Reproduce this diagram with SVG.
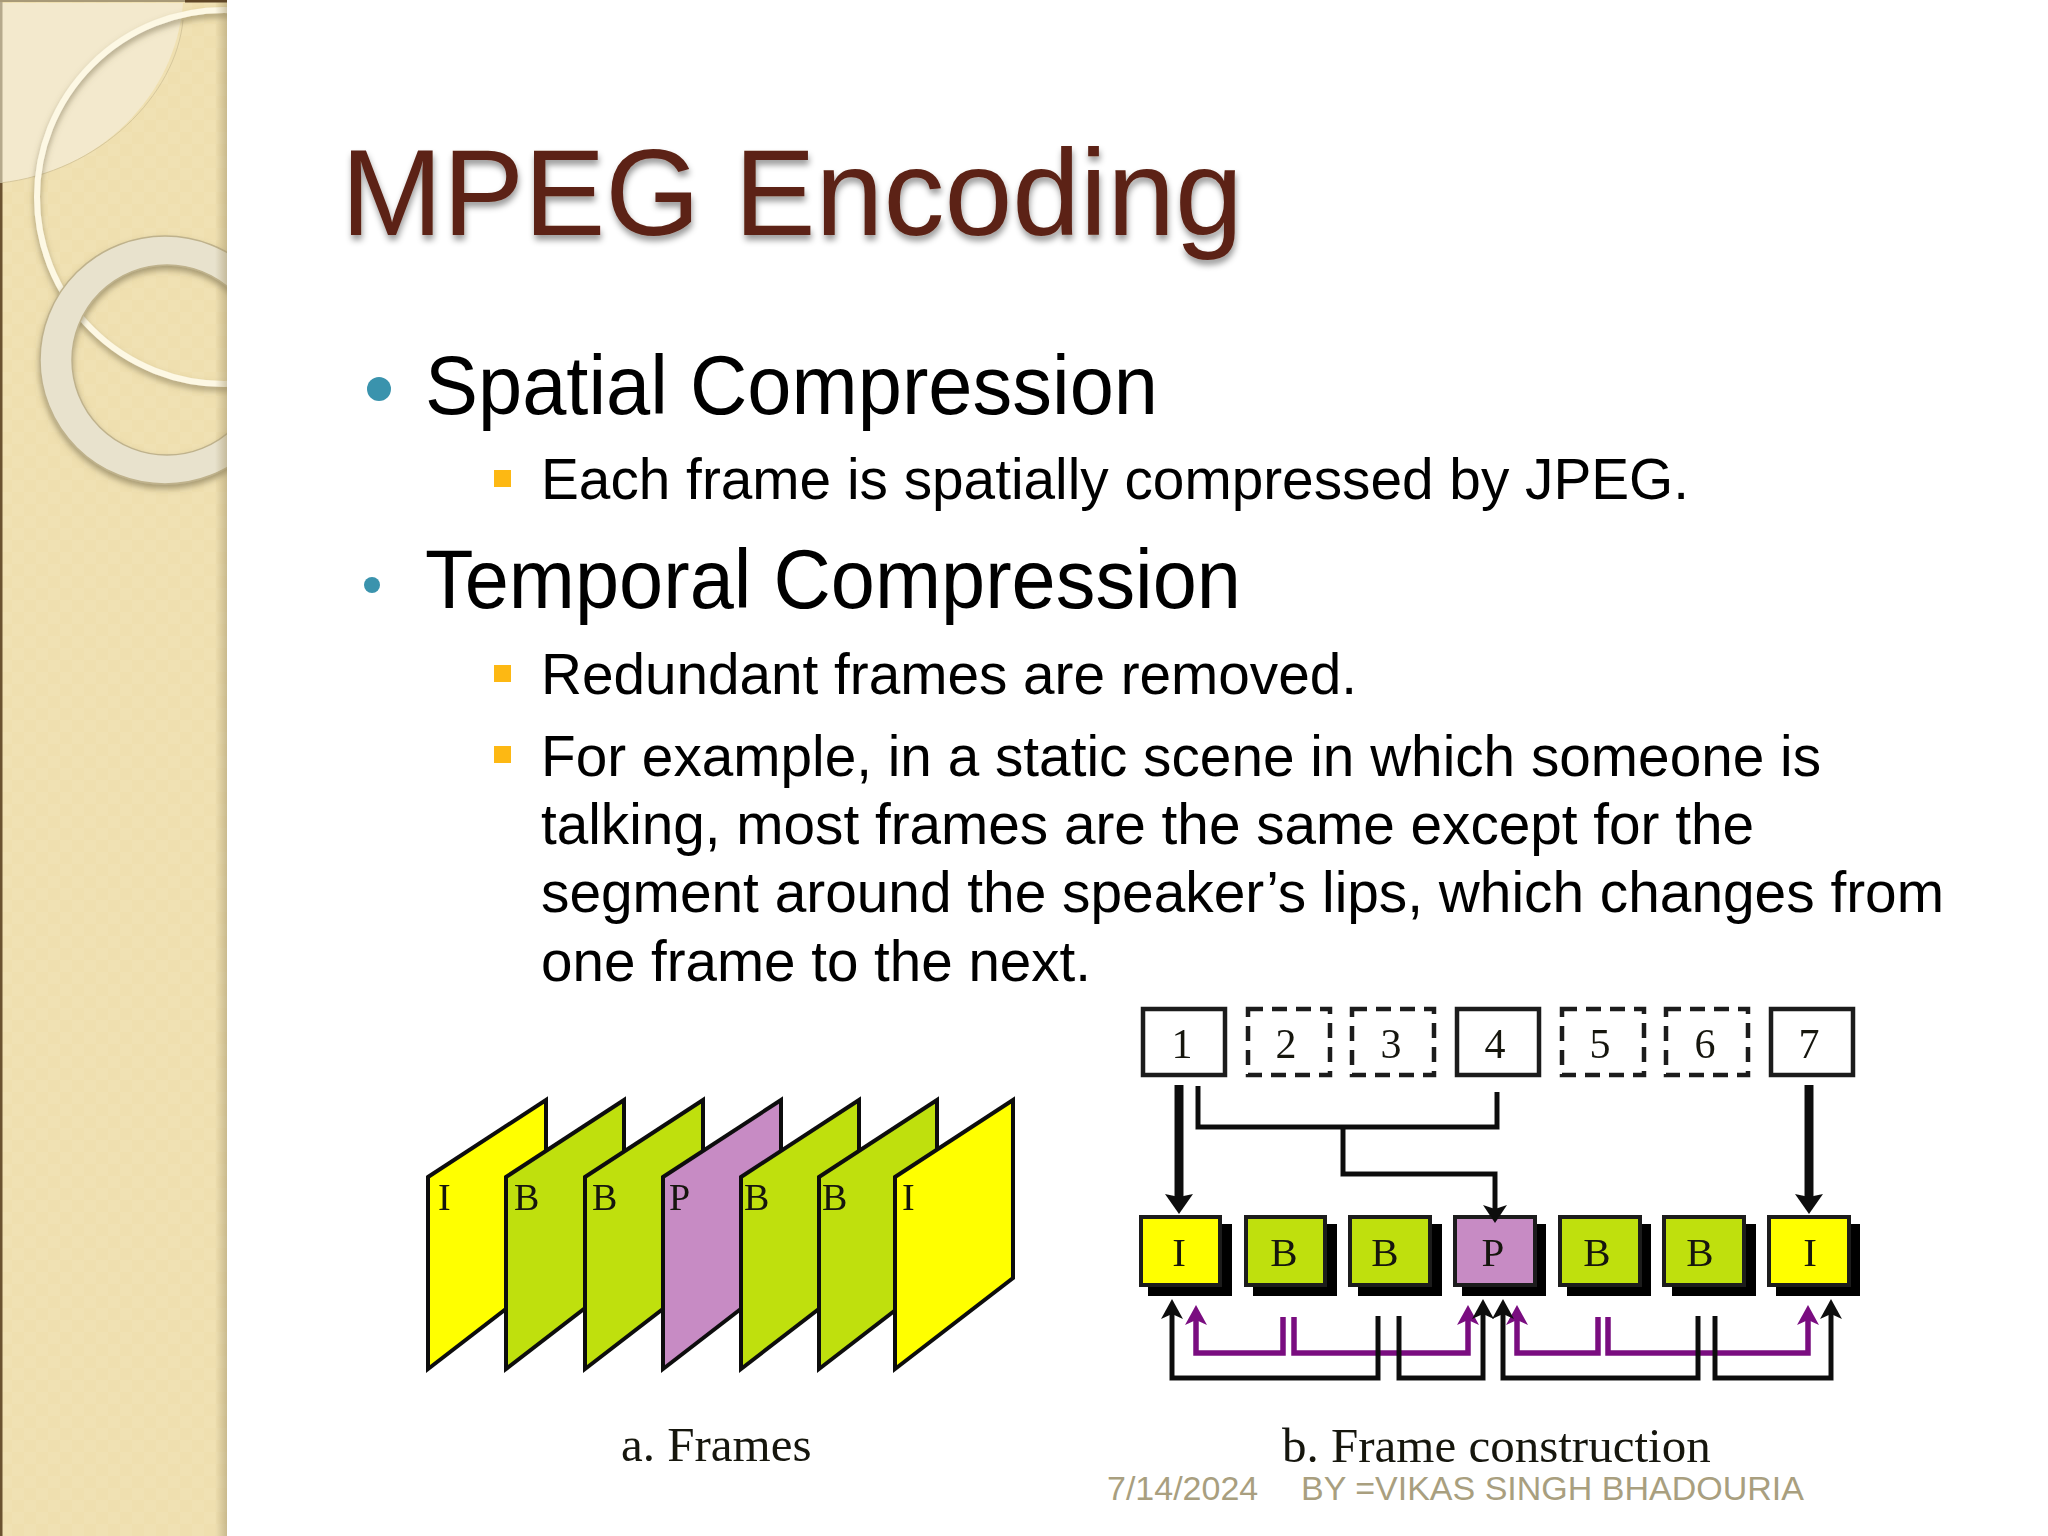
<svg xmlns="http://www.w3.org/2000/svg" width="2048" height="1536" viewBox="0 0 2048 1536">
<style>
.sans{font-family:"Liberation Sans",Arial,sans-serif}
.serif{font-family:"Liberation Serif","Times New Roman",serif;fill:#15150f}
.l1{font-size:84px;fill:#000}
.l2{font-size:58px;fill:#000}
.foot{font-size:34px;fill:#a99f7f}
.num{font-size:42px;text-anchor:middle}
.let{font-size:41px;text-anchor:middle}
.flet{font-size:38px}
.cap{font-size:49px}
.sq{fill:#fdb813}
.dot{fill:#3a93ad}
.fr{stroke:#111;stroke-width:4;stroke-linejoin:miter}
.box{stroke:#1a1a1a;stroke-width:4}
.top{fill:#fff;stroke:#1a1a1a;stroke-width:4.5}
.dash{stroke-dasharray:15 9}
.y{fill:#ffff00}.g{fill:#bfe010}.p{fill:#c78bc4}
.k{fill:none;stroke:#111;stroke-width:5}
.v{fill:none;stroke:#7a0f80;stroke-width:5.5}
</style>
<defs>
<pattern id="tex" width="24" height="24" patternUnits="userSpaceOnUse">
<rect width="24" height="24" fill="#f0e1b3"/>
<rect width="12" height="12" fill="#efdfaf"/>
<rect x="12" y="12" width="12" height="12" fill="#efdfaf"/>
</pattern>
<linearGradient id="edge" x1="0" x2="1" y1="0" y2="0">
<stop offset="0" stop-color="#9a8a60" stop-opacity="0"/>
<stop offset="1" stop-color="#9a8a60" stop-opacity=".45"/>
</linearGradient>
<clipPath id="side"><rect width="227" height="1536"/></clipPath>
<filter id="ts" x="-5%" y="-10%" width="110%" height="130%"><feDropShadow dx="1" dy="5" stdDeviation="3" flood-color="#000" flood-opacity=".4"/></filter>
<filter id="rs" x="-10%" y="-10%" width="120%" height="120%"><feDropShadow dx="0" dy="4" stdDeviation="3" flood-color="#6b5f3c" flood-opacity=".55"/></filter>
<filter id="soft"><feGaussianBlur stdDeviation=".6"/></filter>
<marker id="hk" markerUnits="userSpaceOnUse" markerWidth="20" markerHeight="22" refX="5" refY="11" orient="auto"><path d="M0 0L20 11L0 22L5 11z" fill="#111"/></marker>
<marker id="hv" markerUnits="userSpaceOnUse" markerWidth="20" markerHeight="22" refX="5" refY="11" orient="auto"><path d="M0 0L20 11L0 22L5 11z" fill="#7a0f80"/></marker>
<marker id="hb" markerUnits="userSpaceOnUse" markerWidth="20" markerHeight="28" refX="3" refY="14" orient="auto"><path d="M0 0L20 14L0 28L3 14z" fill="#111"/></marker>
<marker id="hm" markerUnits="userSpaceOnUse" markerWidth="18" markerHeight="24" refX="4" refY="12" orient="auto"><path d="M0 0L18 12L0 24L4 12z" fill="#111"/></marker>
</defs>
<rect width="2048" height="1536" fill="#fff"/>

<g id="sidebar" clip-path="url(#side)">
<rect width="227" height="1536" fill="url(#tex)"/>
<path d="M0 3H183C176 95 100 172 0 183z" fill="#f3e9cd"/>
<path d="M183 20C176 95 100 172 0 183" fill="none" stroke="#d6c79c" stroke-width="1"/>
<circle cx="224" cy="197" r="187" fill="none" stroke="#fdf8e4" stroke-width="6" filter="url(#rs)"/>
<g filter="url(#rs)">
<path fill-rule="evenodd" d="M290 360a125 124 0 1 0-250 0a125 124 0 1 0 250 0zM262 360a95 95 0 1 1-190 0a95 95 0 1 1 190 0z" fill="#e8e2cd" stroke="#bfb28c" stroke-width="1.5"/>
</g>
<rect x="215" width="12" height="1536" fill="url(#edge)"/>
<rect width="2.5" y="183" height="1353" fill="#6b5230"/>
<rect width="2.5" height="183" fill="#b5a98c"/>
<rect width="185" height="2" fill="#a89a78"/>
<rect x="185" width="42" height="2.5" fill="#5e4526"/>
</g>

<g id="title"><text class="sans" x="341" y="235" font-size="122" fill="#5c2415" filter="url(#ts)">MPEG Encoding</text></g>

<g id="body" class="sans">
<ellipse class="dot" cx="379" cy="389" rx="12" ry="12"/>
<text class="sans l1" x="425" y="414" textLength="733" lengthAdjust="spacingAndGlyphs">Spatial Compression</text>
<rect class="sq" x="494" y="470" width="17" height="17"/>
<text class="sans l2" x="541" y="499" textLength="1148" lengthAdjust="spacingAndGlyphs">Each frame is spatially compressed by JPEG.</text>
<circle class="dot" cx="372" cy="585" r="8"/>
<text class="sans l1" x="425" y="608" textLength="816" lengthAdjust="spacingAndGlyphs">Temporal Compression</text>
<rect class="sq" x="494" y="665" width="17" height="17"/>
<text class="sans l2" x="541" y="694" textLength="816" lengthAdjust="spacingAndGlyphs">Redundant frames are removed.</text>
<rect class="sq" x="494" y="746" width="17" height="17"/>
<text class="sans l2" x="541" y="776" textLength="1280" lengthAdjust="spacingAndGlyphs">For example, in a static scene in which someone is</text>
<text class="sans l2" x="541" y="844" textLength="1213" lengthAdjust="spacingAndGlyphs">talking, most frames are the same except for the</text>
<text class="sans l2" x="541" y="912" textLength="1403" lengthAdjust="spacingAndGlyphs">segment around the speaker’s lips, which changes from</text>
<text class="sans l2" x="541" y="981" textLength="550" lengthAdjust="spacingAndGlyphs">one frame to the next.</text>
</g>

<g id="frames" filter="url(#soft)">
<g id="frame-1"><path class="fr y" d="M428 1177L546 1100V1278L428 1369z"/><text class="serif flet" x="438" y="1210">I</text></g>
<g id="frame-2"><path class="fr g" d="M506 1177L624 1100V1278L506 1369z"/><text class="serif flet" x="514" y="1210">B</text></g>
<g id="frame-3"><path class="fr g" d="M585 1177L703 1100V1278L585 1369z"/><text class="serif flet" x="592" y="1210">B</text></g>
<g id="frame-4"><path class="fr p" d="M663 1177L781 1100V1278L663 1369z"/><text class="serif flet" x="669" y="1210">P</text></g>
<g id="frame-5"><path class="fr g" d="M741 1177L859 1100V1278L741 1369z"/><text class="serif flet" x="744" y="1210">B</text></g>
<g id="frame-6"><path class="fr g" d="M819 1177L937 1100V1278L819 1369z"/><text class="serif flet" x="822" y="1210">B</text></g>
<g id="frame-7"><path class="fr y" d="M895 1177L1013 1100V1278L895 1369z"/><text class="serif flet" x="902" y="1210">I</text></g>
<text class="serif cap" x="621" y="1461">a. Frames</text>
</g>

<g id="construction" filter="url(#soft)">
<g id="seq-1"><rect class="top" x="1143" y="1009" width="82" height="66"/><text class="serif num" x="1182" y="1058">1</text></g>
<g id="seq-2"><rect class="top dash" x="1248" y="1009" width="82" height="66"/><text class="serif num" x="1286" y="1058">2</text></g>
<g id="seq-3"><rect class="top dash" x="1352" y="1009" width="82" height="66"/><text class="serif num" x="1391" y="1058">3</text></g>
<g id="seq-4"><rect class="top" x="1457" y="1009" width="82" height="66"/><text class="serif num" x="1495" y="1058">4</text></g>
<g id="seq-5"><rect class="top dash" x="1562" y="1009" width="82" height="66"/><text class="serif num" x="1600" y="1058">5</text></g>
<g id="seq-6"><rect class="top dash" x="1666" y="1009" width="82" height="66"/><text class="serif num" x="1705" y="1058">6</text></g>
<g id="seq-7"><rect class="top" x="1771" y="1009" width="82" height="66"/><text class="serif num" x="1809" y="1058">7</text></g>

<g id="enc-1"><rect x="1148" y="1224" width="84" height="72" fill="#000"/><rect class="box y" x="1141" y="1217" width="79" height="68"/><text class="serif let" x="1179" y="1266">I</text></g>
<g id="enc-2"><rect x="1253" y="1224" width="84" height="72" fill="#000"/><rect class="box g" x="1246" y="1217" width="79" height="68"/><text class="serif let" x="1284" y="1266">B</text></g>
<g id="enc-3"><rect x="1358" y="1224" width="84" height="72" fill="#000"/><rect class="box g" x="1350" y="1217" width="80" height="68"/><text class="serif let" x="1385" y="1266">B</text></g>
<g id="enc-4"><rect x="1462" y="1224" width="84" height="72" fill="#000"/><rect class="box p" x="1455" y="1217" width="80" height="68"/><text class="serif let" x="1493" y="1266">P</text></g>
<g id="enc-5"><rect x="1567" y="1224" width="84" height="72" fill="#000"/><rect class="box g" x="1560" y="1217" width="80" height="68"/><text class="serif let" x="1597" y="1266">B</text></g>
<g id="enc-6"><rect x="1672" y="1224" width="84" height="72" fill="#000"/><rect class="box g" x="1664" y="1217" width="80" height="68"/><text class="serif let" x="1700" y="1266">B</text></g>
<g id="enc-7"><rect x="1776" y="1224" width="84" height="72" fill="#000"/><rect class="box y" x="1769" y="1217" width="80" height="68"/><text class="serif let" x="1810" y="1266">I</text></g>

<g id="connectors">
<path d="M1179 1085V1197" fill="none" stroke="#111" stroke-width="9" marker-end="url(#hb)"/>
<path d="M1809 1085V1197" fill="none" stroke="#111" stroke-width="9" marker-end="url(#hb)"/>
<path d="M1198 1086V1127H1497V1092" fill="none" stroke="#111" stroke-width="5"/>
<path d="M1343 1127V1174H1495V1209" fill="none" stroke="#111" stroke-width="5" marker-end="url(#hm)"/>
<path class="v" d="M1283 1317V1353H1196V1320" marker-end="url(#hv)"/>
<path class="v" d="M1294 1317V1353H1468V1320" marker-end="url(#hv)"/>
<path class="v" d="M1598 1317V1353H1517V1320" marker-end="url(#hv)"/>
<path class="v" d="M1608 1317V1353H1808V1320" marker-end="url(#hv)"/>
<path class="k" d="M1378 1316V1378H1172V1314" marker-end="url(#hk)"/>
<path class="k" d="M1399 1316V1378H1483V1314" marker-end="url(#hk)"/>
<path class="k" d="M1698 1316V1378H1503V1314" marker-end="url(#hk)"/>
<path class="k" d="M1715 1316V1378H1831V1314" marker-end="url(#hk)"/>
</g>
<text class="serif cap" x="1282" y="1462">b. Frame construction</text>
</g>

<g id="footer"><text class="sans foot" x="1107" y="1500">7/14/2024</text><text class="sans foot" x="1301" y="1500">BY =VIKAS SINGH BHADOURIA</text></g>
</svg>
